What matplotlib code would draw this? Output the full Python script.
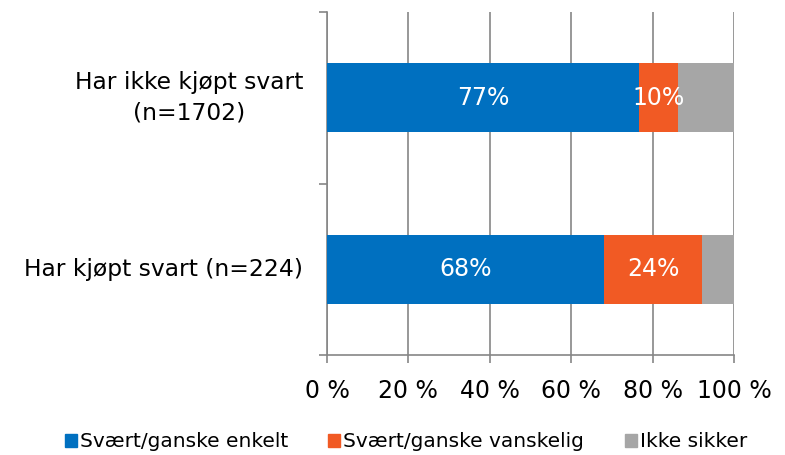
import matplotlib.pyplot as plt
from matplotlib.patches import Patch

# svarandeler per gruppe (prosent)
grupper = ["Har kjøpt svart (n=224)", "Har ikke kjøpt svart\n(n=1702)"]
enkelt = [68.1, 76.7]
vanskelig = [24.0, 9.6]
ikke_sikker = [7.9, 13.7]
serier = ["Svært/ganske enkelt", "Svært/ganske vanskelig", "Ikke sikker"]
farger = ["#0070C0", "#F15A24", "#A6A6A6"]
x_ticks = [0, 20, 40, 60, 80, 100]
x_labels = ["0 %", "20 %", "40 %", "60 %", "80 %", "100 %"]

plt.rcParams["font.family"] = ["DejaVu Sans"]
fig = plt.figure(figsize=(7.85, 4.55), dpi=100)
ax = fig.add_axes([0.4166, 0.2198, 0.5184, 0.7538])

pos = [0, 1]
venstre = [0, 0]
for verdier, farge, navn in zip([enkelt, vanskelig, ikke_sikker], farger, serier):
    ax.barh(pos, verdier, left=venstre, height=0.4, color=farge, zorder=3, label=navn)
    if farge != farger[2]:
        for p, v, l in zip(pos, verdier, venstre):
            ax.text(l + v / 2, p, f"{round(v)}%", ha="center", va="center",
                    color="white", fontsize=17, zorder=4)
    venstre = [a + b for a, b in zip(venstre, verdier)]

ax.set_xlim(0, 100)
ax.set_ylim(-0.5, 1.5)
ax.set_xticks(x_ticks)
ax.set_xticklabels(x_labels, fontsize=17)
ax.set_yticks(pos)
ax.set_yticklabels(grupper, fontsize=16.8, multialignment="center",
                   linespacing=1.45, va="center")
ax.set_yticks([-0.5, 0.5, 1.5], minor=True)
ax.tick_params(axis="y", which="major", length=0, pad=17)
ax.tick_params(axis="y", which="minor", length=6, width=1.2, color="#868686")
ax.tick_params(axis="x", length=6, width=1.2, color="#868686", pad=11)
ax.grid(axis="x", color="#868686", linewidth=1.2, zorder=0)

for s in ["top", "right"]:
    ax.spines[s].set_visible(False)
for s in ["left", "bottom"]:
    ax.spines[s].set_color("#868686")
    ax.spines[s].set_linewidth(1.2)

handles = [Patch(color=f) for f in farger]
fig.legend(handles, serier, loc="lower center", bbox_to_anchor=(0.517, -0.032), ncol=3,
           frameon=False, fontsize=14.5, handlelength=0.6, handleheight=0.6,
           handletextpad=0.15, columnspacing=2.0)

fig.savefig("out.png", dpi=100)
